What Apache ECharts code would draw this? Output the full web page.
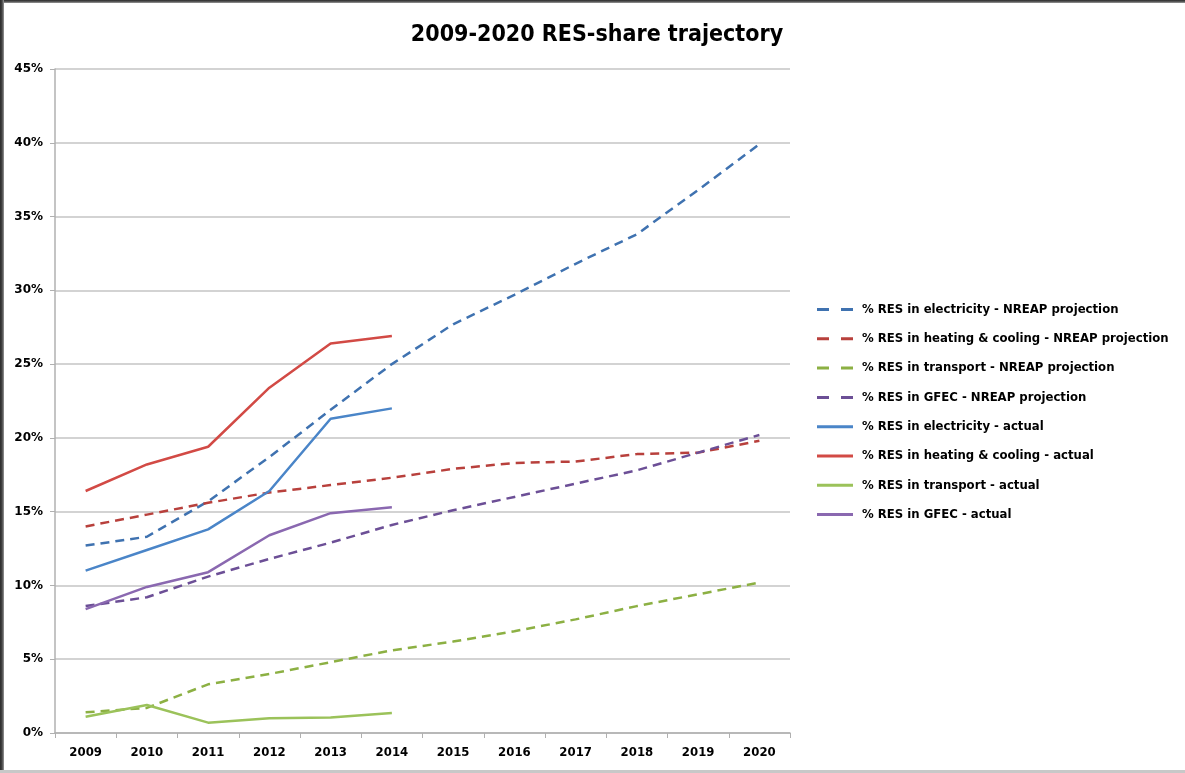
<!DOCTYPE html>
<html>
<head>
<meta charset="utf-8">
<script src="https://cdn.jsdelivr.net/npm/echarts@6/dist/echarts.min.js"></script>
<style>
html,body{margin:0;padding:0;background:#fff;}
#wrap{position:relative;width:1185px;height:773px;overflow:hidden;}
#chart{position:absolute;left:0;top:0;width:1185px;height:773px;}
#bt{position:absolute;left:0;top:0;width:1185px;height:3px;background:linear-gradient(#2a2a2a,#555,#999);}
#bl{position:absolute;left:0;top:0;width:4px;height:773px;background:linear-gradient(90deg,#2a2a2a,#444,#999);}
#bb{position:absolute;left:0;top:770px;width:1185px;height:3px;background:#c8c8c8;}
</style>
</head>
<body>
<div id="wrap"><div id="chart"></div><div id="bt"></div><div id="bl"></div><div id="bb"></div></div>
<script>
const years = ['2009','2010','2011','2012','2013','2014','2015','2016','2017','2018','2019','2020'];
const elecProj = [12.7, 13.3, 15.7, 18.7, 21.9, 25.0, 27.7, 29.7, 31.8, 33.8, 36.8, 39.9];
const heatProj = [14.0, 14.8, 15.6, 16.3, 16.8, 17.3, 17.9, 18.3, 18.4, 18.9, 19.0, 19.8];
const transProj = [1.4, 1.7, 3.3, 4.0, 4.8, 5.6, 6.2, 6.9, 7.7, 8.6, 9.4, 10.2];
const gfecProj = [8.6, 9.2, 10.6, 11.8, 12.9, 14.1, 15.1, 16.0, 16.9, 17.8, 19.0, 20.2];
const elecAct = [11.0, 12.4, 13.8, 16.4, 21.3, 22.0];
const heatAct = [16.4, 18.2, 19.4, 23.4, 26.4, 26.9];
const transAct = [1.1, 1.9, 0.7, 1.0, 1.05, 1.35];
const gfecAct = [8.4, 9.9, 10.9, 13.4, 14.9, 15.3];
const yTicks = [0, 5, 10, 15, 20, 25, 30, 35, 40, 45];

const names = [
  '% RES in electricity - NREAP projection',
  '% RES in heating & cooling - NREAP projection',
  '% RES in transport - NREAP projection',
  '% RES in GFEC - NREAP projection',
  '% RES in electricity - actual',
  '% RES in heating & cooling - actual',
  '% RES in transport - actual',
  '% RES in GFEC - actual'
];
const dashColors = ['#3f72b0', '#b8403c', '#8cb043', '#6c4f96'];
const solidColors = ['#4a85c8', '#d24a45', '#9bc25a', '#8a68b0'];
const dataSets = [elecProj, heatProj, transProj, gfecProj, elecAct, heatAct, transAct, gfecAct];

const dashIcon = 'path://M0,0H12V3H0Z M24,0H36V3H24Z';
const solidIcon = 'path://M0,0H36V3H0Z';

const series = dataSets.map((d, i) => {
  const dashed = i < 4;
  const c = dashed ? dashColors[i] : solidColors[i - 4];
  return {
    name: names[i],
    type: 'line',
    data: d,
    symbol: 'none',
    smooth: false,
    z: dashed ? 2 : 3,
    lineStyle: { color: c, width: 2.5, type: dashed ? [9, 6] : 'solid' },
    itemStyle: { color: c }
  };
});

const chart = echarts.init(document.getElementById('chart'), null, { renderer: 'canvas' });
chart.setOption({
  animation: false,
  backgroundColor: '#fff',
  title: {
    text: '2009-2020 RES-share trajectory',
    left: 592, top: 19, textAlign: 'center',
    textStyle: { fontFamily: 'DejaVu Sans Condensed, Open Sans, sans-serif', fontSize: 23, fontWeight: 'bold', color: '#000' }
  },
  legend: {
    orient: 'vertical',
    left: 812, top: 298,
    itemGap: 16.3,
    itemWidth: 36, itemHeight: 18,
    data: names.map((n, i) => ({ name: n, icon: i < 4 ? dashIcon : solidIcon })),
    textStyle: { fontFamily: 'DejaVu Sans Condensed, Open Sans, sans-serif', fontSize: 13, fontWeight: 'bold', color: '#000', padding: [0, 0, 0, 4] }
  },
  grid: { left: 55, right: 395, top: 69, bottom: 40, containLabel: false },
  xAxis: {
    type: 'category',
    data: years,
    boundaryGap: true,
    axisLine: { lineStyle: { color: '#b0b0b0', width: 1.5 } },
    axisTick: { show: true, length: 5, lineStyle: { color: '#b0b0b0' } },
    axisLabel: { margin: 13, fontFamily: 'DejaVu Sans Condensed, sans-serif', fontSize: 13, fontWeight: 'bold', color: '#000' },
    splitLine: { show: false }
  },
  yAxis: {
    type: 'value',
    min: 0, max: 45, interval: 5,
    axisLine: { show: true, lineStyle: { color: '#b0b0b0', width: 1.5 } },
    axisTick: { show: true, inside: false, length: 5, lineStyle: { color: '#b0b0b0' } },
    axisLabel: {
      margin: 12,
      fontFamily: 'DejaVu Sans, sans-serif', fontSize: 12, fontWeight: 'bold', color: '#000',
      formatter: v => (yTicks.indexOf(v) >= 0 ? v + '%' : '')
    },
    splitLine: { show: true, lineStyle: { color: '#c4c4c4', width: 1.5 } }
  },
  series: series
});
</script>
</body>
</html>
